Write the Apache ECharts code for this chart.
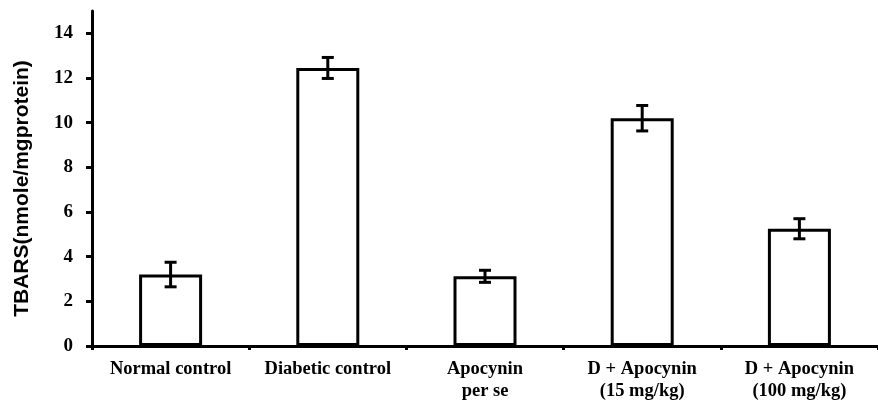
<!DOCTYPE html>
<html>
<head>
<meta charset="utf-8">
<script src="https://cdn.jsdelivr.net/npm/echarts@6/dist/echarts.min.js"></script>
<style>
html,body{margin:0;padding:0;background:#fff;}
#chart{width:878px;height:402px;}
</style>
</head>
<body>
<div id="chart"></div>
<script>
const categories = ['Normal control', 'Diabetic control', 'Apocynin\nper se', 'D + Apocynin\n(15 mg/kg)', 'D + Apocynin\n(100 mg/kg)'];
const means = [3.2, 12.45, 3.12, 10.2, 5.25];
const errors = [0.55, 0.47, 0.27, 0.57, 0.45];
const yTicks = [0, 2, 4, 6, 8, 10, 12, 14];
const yTitle = 'TBARS(nmole/mgprotein)';

const errData = means.map((m, i) => [i, m - errors[i], m + errors[i]]);

const chart = echarts.init(document.getElementById('chart'), null, {renderer: 'canvas'});
chart.setOption({
  animation: false,
  backgroundColor: '#fff',
  grid: {left: 92, right: -9, top: 11, bottom: 52, containLabel: false},
  xAxis: {
    type: 'category',
    data: categories,
    boundaryGap: true,
    axisLine: {lineStyle: {color: '#000', width: 3}},
    axisTick: {show: true, interval: 0, length: 4, lineStyle: {color: '#000', width: 3}},
    axisLabel: {
      interval: 0, margin: 12, color: '#000',
      fontFamily: 'Liberation Serif', fontWeight: 'bold', fontSize: 18.5, lineHeight: 22
    },
    splitLine: {show: false}
  },
  yAxis: {
    type: 'value',
    min: 0, max: 15, interval: 2,
    name: yTitle,
    nameLocation: 'middle',
    nameGap: 59,
    nameTextStyle: {fontFamily: 'Liberation Sans', fontWeight: 'bold', fontSize: 21, color: '#000', padding: [0, 20, 0, 0]},
    axisLine: {show: true, lineStyle: {color: '#000', width: 3}},
    axisTick: {show: true, length: 6, customValues: yTicks, lineStyle: {color: '#000', width: 3}},
    axisLabel: {
      customValues: yTicks, margin: 19, color: '#000',
      fontFamily: 'Liberation Serif', fontWeight: 'bold', fontSize: 19
    },
    splitLine: {show: false}
  },
  series: [
    {
      type: 'bar',
      data: means,
      barWidth: 63,
      itemStyle: {color: '#fff', borderColor: '#000', borderWidth: 3}
    },
    {
      type: 'custom',
      data: errData,
      z: 10,
      renderItem: function (params, api) {
        const x = api.value(0);
        const lo = api.coord([x, api.value(1)]);
        const hi = api.coord([x, api.value(2)]);
        const hw = 6;
        const style = {stroke: '#000', lineWidth: 3, fill: null};
        return {
          type: 'group',
          children: [
            {type: 'line', shape: {x1: lo[0], y1: lo[1], x2: hi[0], y2: hi[1]}, style: style},
            {type: 'line', shape: {x1: lo[0] - hw, y1: lo[1], x2: lo[0] + hw, y2: lo[1]}, style: style},
            {type: 'line', shape: {x1: hi[0] - hw, y1: hi[1], x2: hi[0] + hw, y2: hi[1]}, style: style}
          ]
        };
      }
    }
  ]
});
</script>
</body>
</html>
